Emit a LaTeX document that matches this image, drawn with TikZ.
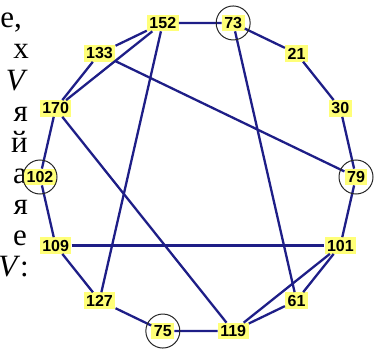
\documentclass[tikz,border=0pt]{standalone}
\usepackage{fontspec}
\setmainfont{Liberation Serif}
\newfontfamily\labfont{Liberation Sans}
\usepackage{tikz}
\usetikzlibrary{positioning}
\definecolor{edgeblue}{RGB}{30,30,135}
\definecolor{labyellow}{RGB}{255,255,120}
\tikzset{
  %% vertex label
  num/.style={
    rectangle, fill=labyellow,
    font=\labfont\bfseries\fontsize{16}{16}\selectfont,
    inner xsep=2.5pt, inner ysep=2.5pt
  },
  %% edge of the graph
  link/.style={draw=edgeblue, line width=2.3pt},
  %% marked vertex
  ring/.style={draw=black!85, line width=1pt},
  %% text cut at the left margin
  side/.style={anchor=base east, inner sep=0pt,
    font=\fontsize{31}{31}\selectfont},
}

\begin{document}
\begin{tikzpicture}[x=1pt, y=1pt]
  \useasboundingbox (0,0) rectangle (385,-353);
  \clip (0,0) rectangle (385,-353);

  %% text column of the page
  \node[side] (t1) at (22,-28)  {е,};
  \node[side] (t2) at (29,-59)  {х};
  \node[side] (t3) at (28,-90)  {\textit{V}};
  \node[side] (t4) at (28,-121) {я};
  \node[side] (t5) at (28,-152) {й};
  \node[side] (t6) at (27,-183) {а};
  \node[side] (t7) at (28,-214) {я};
  \node[side] (t8) at (27,-245) {е};
  \node[side] (t9) at (29,-276) {\textit{V}:};

  %% vertices on a regular 14-gon
  \begin{scope}[shift={(198,-177)}]
    \node[num] (n73)  at (77.14:158)   {73};
    \node[num] (n21)  at (51.43:158)   {21};
    \node[num] (n30)  at (25.71:158)   {30};
    \node[num] (n79)  at (0:158)       {79};
    \node[num] (n101) at (-25.71:158)  {101};
    \node[num] (n61)  at (-51.43:158)  {61};
    \node[num] (n119) at (-77.14:158)  {119};
    \node[num] (n75)  at (-102.86:158) {75};
    \node[num] (n127) at (-128.57:158) {127};
    \node[num] (n109) at (-154.29:158) {109};
    \node[num] (n102) at (180:158)     {102};
    \node[num] (n170) at (154.29:158)  {170};
    \node[num] (n133) at (128.57:158)  {133};
    \node[num] (n152) at (102.86:158)  {152};
  \end{scope}

  %% outer cycle
  \draw[link] (n152) -- (n73) -- (n21) -- (n30) -- (n79) -- (n101)
    -- (n61) -- (n119) -- (n75) -- (n127) -- (n109) -- (n102)
    -- (n170) -- (n133) -- (n152);
  %% chords
  \draw[link] (n170) -- (n152);
  \draw[link] (n133) -- (n79);
  \draw[link] (n73) -- (n61);
  \draw[link] (n152) -- (n127);
  \draw[link] (n170) -- (n119);
  \draw[link] (n109) -- (n101);
  \draw[link] (n101) -- (n119);

  %% marked vertices
  \draw[ring] (n73)  circle (17pt);
  \draw[ring] (n79)  circle (17pt);
  \draw[ring] (n75)  circle (17pt);
  \draw[ring] (n102) circle (17pt);
\end{tikzpicture}
\end{document}
